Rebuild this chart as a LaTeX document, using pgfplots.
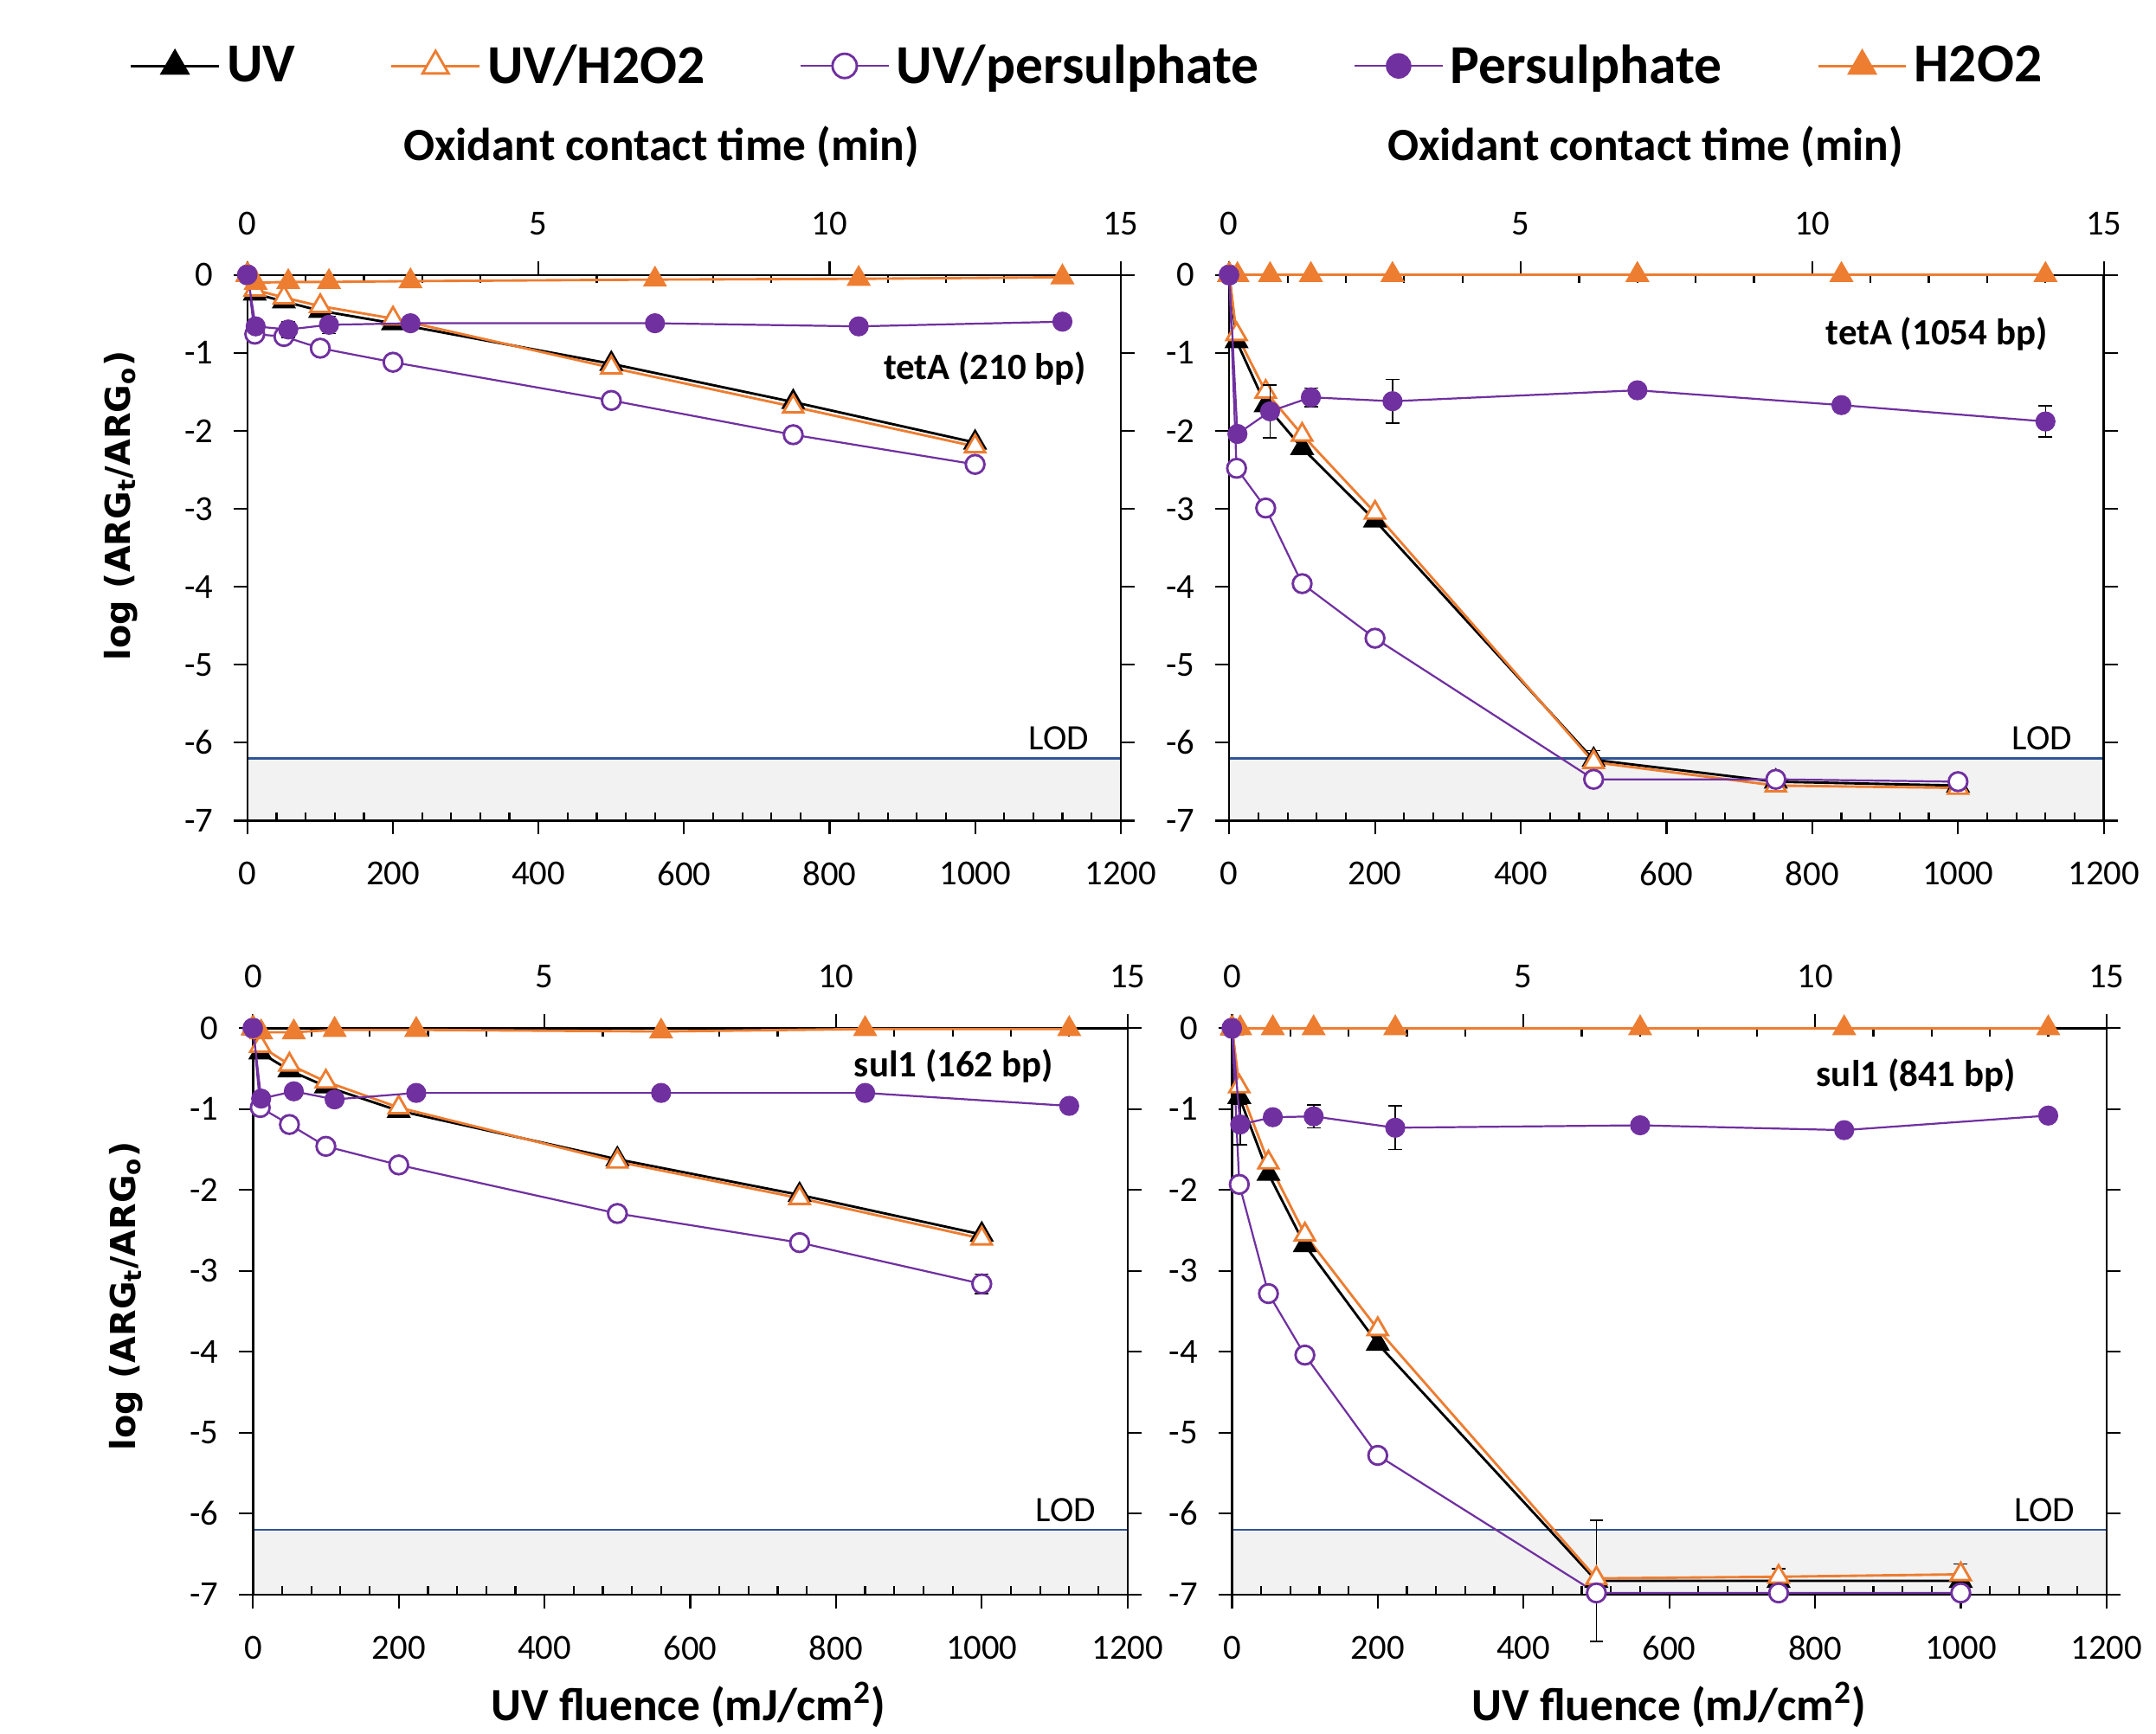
\documentclass[border=0pt]{standalone}
\usepackage{pgfplots}
\pgfplotsset{compat=1.18}
\usepackage{fontspec}
\setmainfont{Carlito}
\newfontfamily\dejavu{DejaVu Sans}

\definecolor{uvor}{HTML}{ED7D31}
\definecolor{uvpu}{HTML}{7030A0}
\definecolor{lodb}{HTML}{2F5597}
\definecolor{lodf}{HTML}{F2F2F2}

\pgfplotsset{
  base/.style={scale only axis, clip=false, ymin=-7, ymax=0,
    tick align=outside, major tick length=5pt,
    tick style={black, line width=0.7pt},
    axis line style={black, line width=0.75pt},
    tick label style={font=\fontsize{12.8}{15}\selectfont},
    /pgf/number format/assume math mode=true, /pgf/number format/1000 sep={}},
  lodax/.style={scale only axis, hide axis, xmin=0, xmax=1200, ymin=-7, ymax=0},
  fluax/.style={base, xmin=0, xmax=1200, axis x line*=bottom, axis y line*=box,
    xtick={0,200,...,1200},
    extra x ticks={40,80,120,160,240,280,320,360,440,480,520,560,640,680,720,760,840,880,920,960,1040,1080,1120,1160},
    extra x tick labels={},
    extra x tick style={tick align=inside, major tick length=3pt},
    ytick={-7,...,0}, yticklabel pos=left, xticklabel shift=6.5pt, yticklabel shift=4pt},
  timeax/.style={base, xmin=0, xmax=15, axis x line*=top, axis y line=none,
    xtick={0,5,10,15},
    extra x ticks={1,2,3,4,6,7,8,9,11,12,13,14},
    extra x tick labels={},
    extra x tick style={tick align=inside, major tick length=3pt},
    xticklabel shift=6pt},
  uv/.style={black, line width=0.9pt, mark=triangle*, mark size=4.2pt, mark options={solid, fill=black}},
  uvh/.style={uvor, line width=0.9pt, mark=triangle*, mark size=4.2pt, mark options={solid, fill=white, line width=0.9pt}},
  uvp/.style={uvpu, line width=0.7pt, mark=*, mark size=3.4pt, mark options={solid, fill=white, line width=0.9pt}},
  per/.style={uvpu, line width=0.7pt, mark=*, mark size=3.3pt, mark options={solid, fill=uvpu}},
  hyd/.style={uvor, line width=0.9pt, mark=triangle*, mark size=4.2pt, mark options={solid, fill=uvor}},
  eb/.style={black, only marks, mark=none, forget plot, error bars/.cd, y dir=both, y explicit,
    error bar style={black, line width=0.5pt},
    error mark options={rotate=90, mark size=2.5pt, black, line width=0.5pt}},
  lod/.style={forget plot, draw=none, fill=lodf},
  lodline/.style={forget plot, lodb, line width=0.8pt},
  toplab/.style={xlabel={Oxidant contact time (min)}, xlabel style={at={(axis description cs:#1,1)}, anchor=center, yshift=46.5pt, font=\fontsize{16.8}{20}\selectfont\bfseries}},
  botlab/.style={xlabel={UV fluence (mJ/cm\textsuperscript{2})}, xlabel style={at={(axis description cs:#1,0)}, anchor=center, yshift=-40pt, font=\fontsize{16.8}{20}\selectfont\bfseries}},
  ylab/.style={ylabel={log (ARG\textsubscript{t}/ARG\textsubscript{o})}, ylabel style={at={(axis description cs:0,#1)}, anchor=center, yshift=46pt, font=\dejavu\bfseries\fontsize{12.5}{15}\selectfont}},
}
\newcommand{\panellabel}[3]{\node[anchor=east, font=\fontsize{13.5}{16}\selectfont\bfseries] at (rel axis cs:#1,#2) {#3};}
\newcommand{\lodpanel}[4]{%
\begin{axis}[lodax, at={(#1,#2)}, anchor=south west, width=#3, height=#4]
\addplot[lod] coordinates {(0,-7) (0,-6.2) (1200,-6.2) (1200,-7)} -- cycle;
\addplot[lodline] coordinates {(0,-6.2) (1200,-6.2)};
\node[anchor=base east, xshift=-8pt, yshift=3pt, font=\fontsize{13}{15}\selectfont] at (axis cs:1200,-6.2) {LOD};
\end{axis}}

\begin{document}
\begin{tikzpicture}
\useasboundingbox (0,0) rectangle (784pt,-630.5pt);

% ---------- tetA (210 bp) ----------
\lodpanel{90pt}{-298.5pt}{317.5pt}{198.5pt}
\begin{axis}[fluax, ylab=0.577, at={(90pt,-298.5pt)}, anchor=south west, width=317.5pt, height=198.5pt,
  legend columns=5,
  legend style={at={(axis description cs:-0.145,1.383)}, anchor=west, draw=none, fill=none,
    font=\fontsize{20}{24}\selectfont\bfseries,
    /tikz/every even column/.append style={column sep=32pt}, nodes={inner sep=2.5pt}},
  legend image code/.code={\draw[mark repeat=2,mark phase=2,#1,every mark/.append style={scale=1.3}] plot coordinates {(0pt,0pt) (16pt,0pt) (32pt,0pt)};}]
\addplot[uv] coordinates {(0,0) (10,-0.24) (50,-0.34) (100,-0.46) (200,-0.62) (500,-1.14) (750,-1.63) (1000,-2.15)};
\addlegendentry{UV}
\addplot[uvh] coordinates {(0,0) (10,-0.19) (50,-0.29) (100,-0.40) (200,-0.56) (500,-1.19) (750,-1.69) (1000,-2.20)};
\addlegendentry{UV/H2O2}
\addplot[uvp] coordinates {(0,0) (10,-0.76) (50,-0.79) (100,-0.94) (200,-1.12) (500,-1.61) (750,-2.05) (1000,-2.43)};
\addlegendentry{UV/persulphate}
\addlegendimage{per}
\addlegendentry{Persulphate}
\addlegendimage{hyd}
\addlegendentry{H2O2}
\panellabel{0.9717}{0.829}{tetA (210 bp)}
\end{axis}
\begin{axis}[timeax, toplab=0.474, at={(90pt,-298.5pt)}, anchor=south west, width=317.5pt, height=198.5pt]
\addplot[eb] coordinates {(0.7,-0.70) +- (0,0.1) (1.4,-0.64) +- (0,0.11) (10.5,-0.66) +- (0,0.08)};
\addplot[hyd] coordinates {(0,0) (0.14,-0.1) (0.7,-0.09) (1.4,-0.09) (2.8,-0.08) (7,-0.06) (10.5,-0.05) (14,-0.03)};
\addplot[per] coordinates {(0,0) (0.14,-0.66) (0.7,-0.70) (1.4,-0.64) (2.8,-0.62) (7,-0.62) (10.5,-0.66) (14,-0.60)};
\end{axis}

% ---------- tetA (1054 bp) ----------
\lodpanel{447pt}{-298.5pt}{318pt}{198.5pt}
\begin{axis}[fluax, at={(447pt,-298.5pt)}, anchor=south west, width=318pt, height=198.5pt]
\addplot[eb] coordinates {(500,-6.24) +- (0,0.14)};
\addplot[uv] coordinates {(0,0) (10,-0.85) (50,-1.67) (100,-2.22) (200,-3.15) (500,-6.22) (750,-6.50) (1000,-6.55)};
\addplot[uvh] coordinates {(0,0) (10,-0.76) (50,-1.50) (100,-2.05) (200,-3.05) (500,-6.25) (750,-6.55) (1000,-6.58)};
\addplot[uvp] coordinates {(0,0) (10,-2.48) (50,-2.99) (100,-3.96) (200,-4.66) (500,-6.47) (750,-6.47) (1000,-6.50)};
\panellabel{0.9465}{0.892}{tetA (1054 bp)}
\end{axis}
\begin{axis}[timeax, toplab=0.476, at={(447pt,-298.5pt)}, anchor=south west, width=318pt, height=198.5pt]
\addplot[eb] coordinates {(0.7,-1.75) +- (0,0.34) (1.4,-1.57) +- (0,0.12) (2.8,-1.62) +- (0,0.28) (14,-1.88) +- (0,0.2)};
\addplot[hyd] coordinates {(0,0) (0.14,0) (0.7,0) (1.4,0) (2.8,0) (7,0) (10.5,0) (14,0)};
\addplot[per] coordinates {(0,0) (0.14,-2.04) (0.7,-1.75) (1.4,-1.57) (2.8,-1.62) (7,-1.48) (10.5,-1.67) (14,-1.88)};
\end{axis}

% ---------- sul1 (162 bp) ----------
\lodpanel{92pt}{-580pt}{318pt}{206pt}
\begin{axis}[fluax, ylab=0.527, botlab=0.498, at={(92pt,-580pt)}, anchor=south west, width=318pt, height=206pt]
\addplot[eb] coordinates {(1000,-3.16) +- (0,0.12)};
\addplot[uv] coordinates {(0,0) (10,-0.30) (50,-0.52) (100,-0.72) (200,-1.02) (500,-1.62) (750,-2.06) (1000,-2.55)};
\addplot[uvh] coordinates {(0,0) (10,-0.22) (50,-0.45) (100,-0.66) (200,-0.98) (500,-1.65) (750,-2.10) (1000,-2.60)};
\addplot[uvp] coordinates {(0,0) (10,-0.98) (50,-1.19) (100,-1.46) (200,-1.69) (500,-2.29) (750,-2.65) (1000,-3.16)};
\panellabel{0.926}{0.934}{sul1 (162 bp)}
\end{axis}
\begin{axis}[timeax, at={(92pt,-580pt)}, anchor=south west, width=318pt, height=206pt]
\addplot[hyd] coordinates {(0,0) (0.14,-0.05) (0.7,-0.05) (1.4,-0.02) (2.8,-0.02) (7,-0.04) (10.5,-0.01) (14,-0.01)};
\addplot[per] coordinates {(0,0) (0.14,-0.87) (0.7,-0.78) (1.4,-0.88) (2.8,-0.80) (7,-0.80) (10.5,-0.80) (14,-0.96)};
\end{axis}

% ---------- sul1 (841 bp) ----------
\lodpanel{448pt}{-580pt}{318pt}{206pt}
\begin{axis}[fluax, botlab=0.5, at={(448pt,-580pt)}, anchor=south west, width=318pt, height=206pt]
\addplot[eb] coordinates {(500,-6.83) +- (0,0.75) (750,-6.78) +- (0,0.1) (1000,-6.75) +- (0,0.13)};
\addplot[uv] coordinates {(0,0) (10,-0.85) (50,-1.80) (100,-2.68) (200,-3.90) (500,-6.83) (750,-6.83) (1000,-6.83)};
\addplot[uvh] coordinates {(0,0) (10,-0.72) (50,-1.66) (100,-2.55) (200,-3.72) (500,-6.80) (750,-6.78) (1000,-6.75)};
\addplot[uvp] coordinates {(0,0) (10,-1.93) (50,-3.28) (100,-4.04) (200,-5.28) (500,-6.98) (750,-6.98) (1000,-6.98)};
\panellabel{0.907}{0.917}{sul1 (841 bp)}
\end{axis}
\begin{axis}[timeax, at={(448pt,-580pt)}, anchor=south west, width=318pt, height=206pt]
\addplot[eb] coordinates {(0.14,-1.19) +- (0,0.25) (1.4,-1.09) +- (0,0.14) (2.8,-1.23) +- (0,0.27)};
\addplot[hyd] coordinates {(0,0) (0.14,0) (0.7,0) (1.4,0) (2.8,0) (7,0) (10.5,0) (14,0)};
\addplot[per] coordinates {(0,0) (0.14,-1.19) (0.7,-1.10) (1.4,-1.09) (2.8,-1.23) (7,-1.20) (10.5,-1.26) (14,-1.08)};
\end{axis}
\end{tikzpicture}
\end{document}
